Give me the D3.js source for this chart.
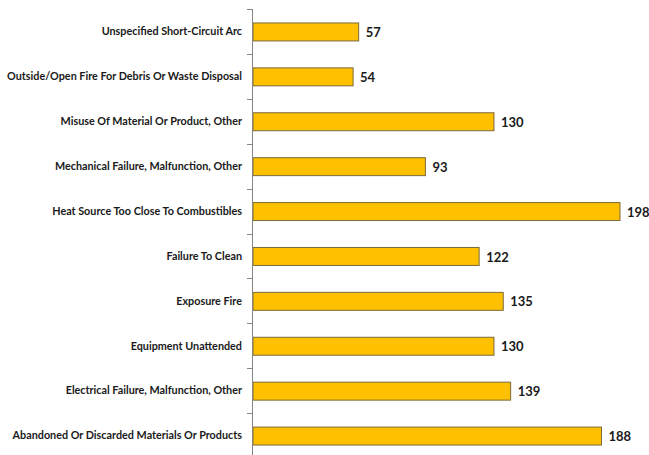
<!DOCTYPE html>
<html><head><meta charset="utf-8">
<script src="https://cdn.jsdelivr.net/npm/d3@7"></script>
<style>body{margin:0;background:#fff}</style>
</head><body>
<svg id="c" width="649" height="455"></svg>
<script>
const categories = [
  "Unspecified Short-Circuit Arc",
  "Outside/Open Fire For Debris Or Waste Disposal",
  "Misuse Of Material Or Product, Other",
  "Mechanical Failure, Malfunction, Other",
  "Heat Source Too Close To Combustibles",
  "Failure To Clean",
  "Exposure Fire",
  "Equipment Unattended",
  "Electrical Failure, Malfunction, Other",
  "Abandoned Or Discarded Materials Or Products"
];
const values = [57, 54, 130, 93, 198, 122, 135, 130, 139, 188];

const svg = d3.select("#c");
const x0 = 253;
const x = d3.scaleLinear().domain([0, 198]).range([x0, 620]);
const y = d3.scaleBand().domain(categories).range([9, 458]).paddingInner(0.6).paddingOuter(0.3);

const font = "Lato, 'Open Sans', sans-serif";

// bars
svg.selectAll("rect.bar").data(values).join("rect")
  .attr("class", "bar")
  .attr("x", x(0))
  .attr("y", (d, i) => y(categories[i]) + 0.5)
  .attr("width", d => x(d) - x(0))
  .attr("height", y.bandwidth())
  .attr("fill", "#FFC000")
  .attr("stroke", "#7a6a3a")
  .attr("stroke-width", 1);

// axis
const step = y.step();
const bounds = d3.range(categories.length + 1).map(i => 9 + i * step);
svg.append("line").attr("x1", x0 - 0.5).attr("x2", x0 - 0.5).attr("y1", 9).attr("y2", 458)
  .attr("stroke", "#868686").attr("stroke-width", 1);
svg.selectAll("line.tick").data(bounds).join("line")
  .attr("class", "tick")
  .attr("x1", x0 - 6).attr("x2", x0)
  .attr("y1", d => Math.round(d) + 0.5).attr("y2", d => Math.round(d) + 0.5)
  .attr("stroke", "#868686");

// category labels
svg.selectAll("text.cat").data(categories).join("text")
  .attr("class", "cat")
  .attr("x", 242)
  .attr("y", d => y(d) + y.bandwidth() / 2)
  .attr("dy", "0.35em")
  .attr("text-anchor", "end")
  .attr("font-family", font)
  .attr("font-weight", "bold")
  .attr("font-size", 10.8)
  .attr("fill", "#1a1a1a")
  .text(d => d);

// value labels
svg.selectAll("text.val").data(values).join("text")
  .attr("class", "val")
  .attr("x", d => x(d) + 7)
  .attr("y", (d, i) => y(categories[i]) + y.bandwidth() / 2 + 1)
  .attr("dy", "0.35em")
  .attr("font-family", font)
  .attr("font-weight", "bold")
  .attr("font-size", 13)
  .attr("fill", "#1a1a1a")
  .text(d => d);
</script>
</body></html>
